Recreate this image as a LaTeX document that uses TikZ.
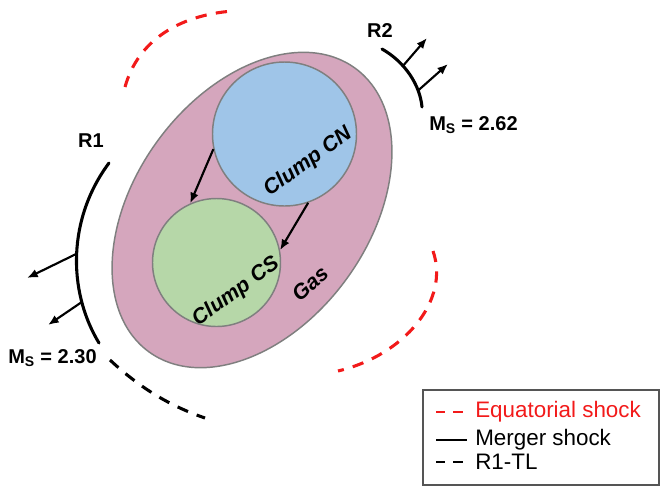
\documentclass[tikz,border=0pt]{standalone}
\usepackage{fontspec}
\setmainfont{Liberation Sans}
\usetikzlibrary{shapes.geometric, arrows.meta}
\definecolor{gaspink}{HTML}{D5A6BD}
\definecolor{cnblue}{HTML}{9FC5E8}
\definecolor{csgreen}{HTML}{B6D7A8}
\definecolor{rimgray}{HTML}{7F7F7F}
\definecolor{boxgray}{HTML}{555555}
\definecolor{eqred}{HTML}{F21A1A}

\begin{document}
\begin{tikzpicture}[x = 0.75pt, y = -0.75pt]
		\tikzset{> = {Latex[length = 8pt, width = 6.5pt]}}
		\tikzset{blob/.style = {draw = rimgray, line width = 1.1pt, inner sep = 0pt},
			shockline/.style = {line width = 2.3pt, line cap = round},
			flowline/.style = {->, line width = 1.6pt},
			eqshock/.style = {eqred, line width = 2.3pt, dash pattern = on 8.5pt off 7pt},
			tlshock/.style = {black, line width = 2.3pt, dash pattern = on 8.5pt off 7pt},
			legenddash/.style = {line width = 2pt, dash pattern = on 7pt off 6pt},
			clumplabel/.style = {font = \fontsize{16}{18}\selectfont\bfseries\itshape, inner sep = 0pt},
			shocklabel/.style = {font = \fontsize{15}{18}\selectfont\bfseries, inner sep = 0pt},
			legendtext/.style = {font = \fontsize{16.8}{20}\selectfont, anchor = west, inner sep = 0pt}}
		\useasboundingbox (0,0) rectangle (668,487);
		% gas and the two clumps
		\node[blob, ellipse, fill = gaspink, minimum width = 263pt, minimum height = 175.5pt, rotate = 54] (Gas) at (252,210){};
		\node[blob, circle, fill = cnblue, minimum size = 108pt] (CN) at (284.5,134){};
		\node[blob, circle, fill = csgreen, minimum size = 96pt] (CS) at (216.5,262.5){};
		\draw[flowline] (CN.192) -- (CS.114);
		\draw[flowline] (CN.289) -- (CS.11);
		\node[clumplabel, rotate = 36] (CNlabel) at (308,162){Clump CN};
		\node[clumplabel, rotate = 36] (CSlabel) at (236,292){Clump CS};
		\node[clumplabel, rotate = 42] (Gaslabel) at (310,284){Gas};
		% equatorial shocks
		\draw[eqshock] (125,87) .. controls (138,40) and (180,15) .. (233,11);
		\draw[eqshock] (433,251) .. controls (450,300) and (405,355) .. (338,371);
		% merger shocks
		\draw[shockline] (109,163) .. controls (68,218) and (67,290) .. (99,343)
			coordinate[pos = 0.5] (R1a) coordinate[pos = 0.76] (R1b);
		\coordinate (R1aTip) at (27,278);
		\coordinate (R1bTip) at (48,325);
		\draw[flowline] (R1a) -- (R1aTip);
		\draw[flowline] (R1b) -- (R1bTip);
		\draw[tlshock] (110,360) .. controls (140,388) and (170,406) .. (205,418);
		\draw[shockline] (382,49) .. controls (405,62) and (420,85) .. (422,107)
			coordinate[pos = 0.35] (R2a) coordinate[pos = 0.75] (R2b);
		\coordinate (R2aTip) at (427,38);
		\coordinate (R2bTip) at (448,64);
		\draw[flowline] (R2a) -- (R2aTip);
		\draw[flowline] (R2b) -- (R2bTip);
		\node[shocklabel] (R1) at (91,141){R1};
		\node[shocklabel] (R2) at (380,31){R2};
		\node[shocklabel, anchor = base west] (MsOne) at (8,363){M\textsubscript{S} = 2.30};
		\node[shocklabel, anchor = base west] (MsTwo) at (429,130){M\textsubscript{S} = 2.62};
		% legend
		\draw[boxgray, line width = 1.3pt] (423,390) rectangle (659,485);
		\coordinate (EqA) at (436,412);
		\coordinate (EqB) at (463,412);
		\coordinate (MgA) at (436,440);
		\coordinate (MgB) at (467,440);
		\coordinate (TlA) at (436,462);
		\coordinate (TlB) at (463,462);
		\draw[legenddash, eqred] (EqA) -- (EqB);
		\draw[line width = 2pt] (MgA) -- (MgB);
		\draw[legenddash] (TlA) -- (TlB);
		\node[legendtext, eqred] (EqText) at (475,412){Equatorial shock};
		\node[legendtext] (MgText) at (475,440){Merger shock};
		\node[legendtext] (TlText) at (475,462){R1-TL};
	\end{tikzpicture}
\end{document}
